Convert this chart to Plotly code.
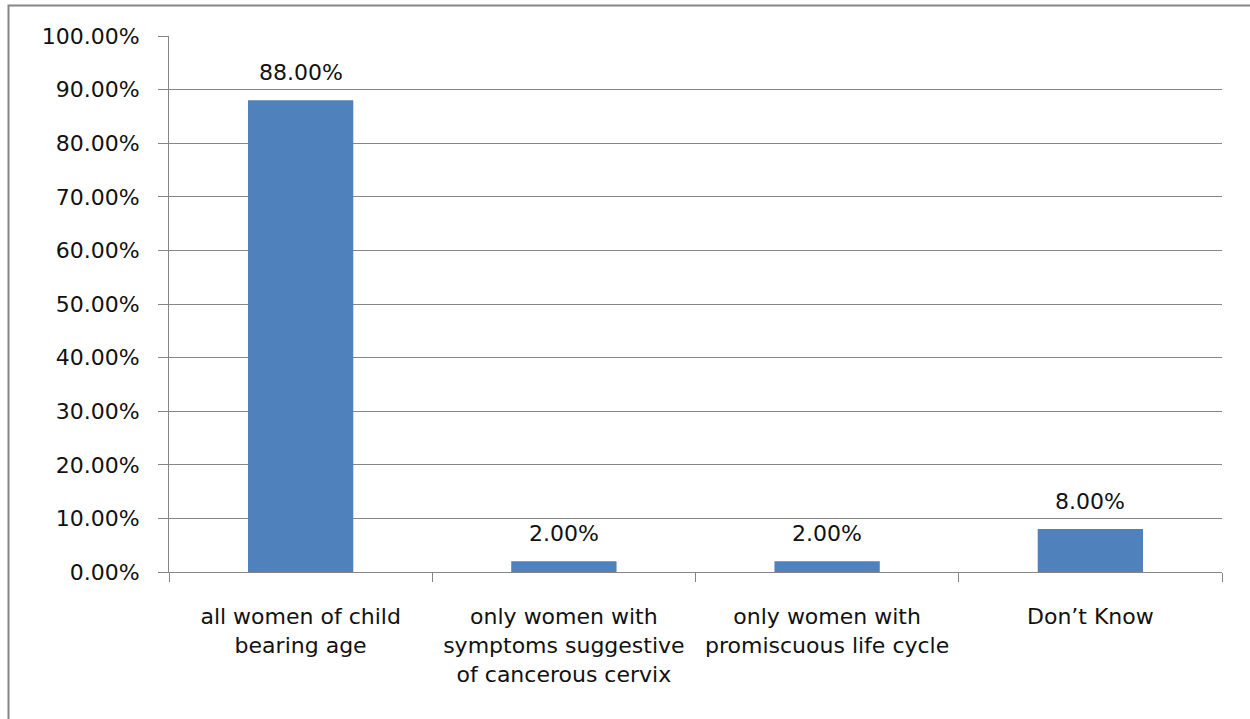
import plotly.graph_objects as go

# Survey responses: who should be screened for cervical cancer
categories = [
    "all women of child<br>bearing age",
    "only women with<br>symptoms suggestive<br>of cancerous cervix",
    "only women with<br>promiscuous life cycle",
    "Don\u2019t Know",
]
shares = [0.88, 0.02, 0.02, 0.08]

y_ticks = [i / 10 for i in range(11)]

FONT = "DejaVu Sans"
TXT = "#111111"
GRAY = "#868686"
BAR = "#4F81BD"
FS = 22

fig = go.Figure(
    go.Bar(
        x=categories,
        y=shares,
        marker=dict(color=BAR, line=dict(width=0)),
        width=0.4,
        hoverinfo="skip",
    )
)

# value labels floating above each bar
for cat, val in zip(categories, shares):
    fig.add_annotation(
        x=cat, y=val, text=f"{val:.2%}", showarrow=False,
        yanchor="bottom", yshift=13,
        font=dict(family=FONT, size=FS, color=TXT),
    )

L, R, T, B = 169, 28, 36, 147
W, H = 1250, 719
pw, ph = W - L - R, H - T - B

def px_x(p):
    return (p - L) / pw

def px_y(p):
    return (H - B - p) / ph

# outer chart frame
fig.add_shape(
    type="rect", xref="paper", yref="paper",
    x0=px_x(8.5), x1=px_x(1262), y0=px_y(5.5), y1=px_y(740),
    line=dict(color=GRAY, width=2), layer="below",
)

fig.update_layout(
    width=W, height=H,
    margin=dict(l=L, r=R, t=T, b=B),
    paper_bgcolor="white", plot_bgcolor="white",
    showlegend=False,
    font=dict(family=FONT, size=FS, color=TXT),
)
fig.update_xaxes(
    showline=True, linecolor=GRAY, linewidth=1,
    ticks="outside", ticklen=9, tickcolor=GRAY, tickson="boundaries",
    showgrid=False, tickangle=0, ticklabelstandoff=25,
    tickfont=dict(family=FONT, size=FS, color=TXT),
)
fig.update_yaxes(
    range=[0, 1], tickvals=y_ticks, tickformat=".2%",
    showline=True, linecolor=GRAY, linewidth=1,
    ticks="outside", ticklen=10, tickcolor=GRAY,
    showgrid=True, gridcolor=GRAY, gridwidth=1,
    zeroline=False, ticklabelstandoff=14,
    tickfont=dict(family=FONT, size=FS, color=TXT),
)

fig.write_html("out.html")
